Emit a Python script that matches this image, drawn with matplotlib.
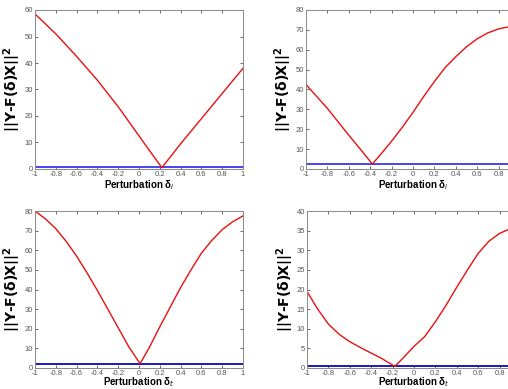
import numpy as np
import matplotlib.pyplot as plt
from matplotlib.ticker import FixedLocator

# Panel data: perturbation delta vs. squared residual (red) and flat reference level (blue)
tl_delta = [-1, -0.8, -0.6, -0.4, -0.2, 0, 0.1, 0.22, 0.4, 0.6, 0.8, 1]
tl_err = [58.5, 51, 42.5, 33.5, 23.5, 12.5, 7, 0.5, 9.5, 19, 28.5, 38]
tl_level = 0.9

tr_delta = [-1, -0.8, -0.6, -0.5, -0.38, -0.3, -0.2, -0.1, 0, 0.1, 0.2, 0.3,
            0.4, 0.5, 0.6, 0.7, 0.8, 0.9, 1]
tr_err = [42.5, 30.5, 17, 10.5, 2.5, 7.5, 14, 21, 28.5, 36.5, 44, 51,
          56.5, 61.5, 65.5, 68.5, 70.5, 71.6, 72]
tr_level = 2.5

bl_delta = [-1, -0.9, -0.8, -0.7, -0.6, -0.5, -0.4, -0.3, -0.2, -0.1, 0.01,
            0.1, 0.2, 0.3, 0.4, 0.5, 0.6, 0.7, 0.8, 0.9, 1]
bl_err = [80, 76, 71, 64.5, 57, 48.5, 39.5, 30, 20.5, 11, 2.2,
          10.5, 21, 31, 41, 50, 58.5, 65, 70.5, 74.5, 77.5]
bl_level = 2.2

br_delta = [-1, -0.9, -0.8, -0.7, -0.6, -0.5, -0.4, -0.3, -0.18, -0.1, 0,
            0.1, 0.2, 0.3, 0.4, 0.5, 0.6, 0.7, 0.8, 0.9, 1]
br_err = [19.5, 15, 11.2, 8.6, 6.7, 5.2, 3.8, 2.4, 0.4, 2.6, 5.5,
          8.0, 11.8, 16, 20.6, 25, 29.2, 32.3, 34.3, 35.5, 36]
br_level = 0.4

x_ticks = [-1, -0.8, -0.6, -0.4, -0.2, 0, 0.2, 0.4, 0.6, 0.8, 1]
x_ticklabels = ['-1', '-0.8', '-0.6', '-0.4', '-0.2', '0', '0.2', '0.4', '0.6', '0.8', '1']

W, H = 508, 389
fig = plt.figure(figsize=(W / 100, H / 100), dpi=100)

panels = [
    # (left px, top px, right px, bottom px), data, ylim, yticks, subscript, blue colour
    ((35, 10, 243, 169), tl_delta, tl_err, tl_level, 60, range(0, 61, 10), 'i', '#4545f5'),
    ((306, 10, 520, 169), tr_delta, tr_err, tr_level, 80, range(0, 81, 10), 'i', '#4545f5'),
    ((35, 211, 243, 368), bl_delta, bl_err, bl_level, 80, range(0, 81, 10), 't', '#1a1ac8'),
    ((307, 211, 521, 368), br_delta, br_err, br_level, 40, range(0, 41, 5), 't', '#1a1ab0'),
]

for (l, t, r, b), xd, yd, level, ymax, yt, sub, bcol in panels:
    ax = fig.add_axes([l / W, 1 - b / H, (r - l) / W, (b - t) / H])
    ax.plot([-1, 1], [level, level], color=bcol, lw=1.4, solid_capstyle='butt')
    ax.plot(xd, yd, color='#e81010', lw=1.0)
    ax.set_xlim(-1, 1)
    ax.set_ylim(0, ymax)
    ax.xaxis.set_major_locator(FixedLocator(x_ticks))
    ax.set_xticklabels(x_ticklabels)
    ax.set_yticks(list(yt))
    ax.tick_params(direction='in', length=2.5, width=0.6, top=True, right=True,
                   labelsize=5.5, colors='#555555', pad=1.5)
    for lab in ax.get_xticklabels() + ax.get_yticklabels():
        lab.set_family('Liberation Sans')
    if r > W:
        # the "1" tick label falls outside the cropped picture
        ax.get_xticklabels()[-1].set_visible(False)
    for s in ax.spines.values():
        s.set_color('#888888')
        s.set_linewidth(0.7)
    ax.set_xlabel(r'Perturbation δ$_{%s}$' % sub, fontsize=7, fontweight='bold',
                  family='Liberation Sans', labelpad=0 if t < 100 else -1)
    ax.set_ylabel(r'||Y-F(δ)X||$^{\mathbf{2}}$', fontsize=10, fontweight='bold',
                  family='DejaVu Sans')
    ax.yaxis.set_label_coords(-11.5 / (r - l), 0.5)

fig.savefig('out.png', dpi=100)
